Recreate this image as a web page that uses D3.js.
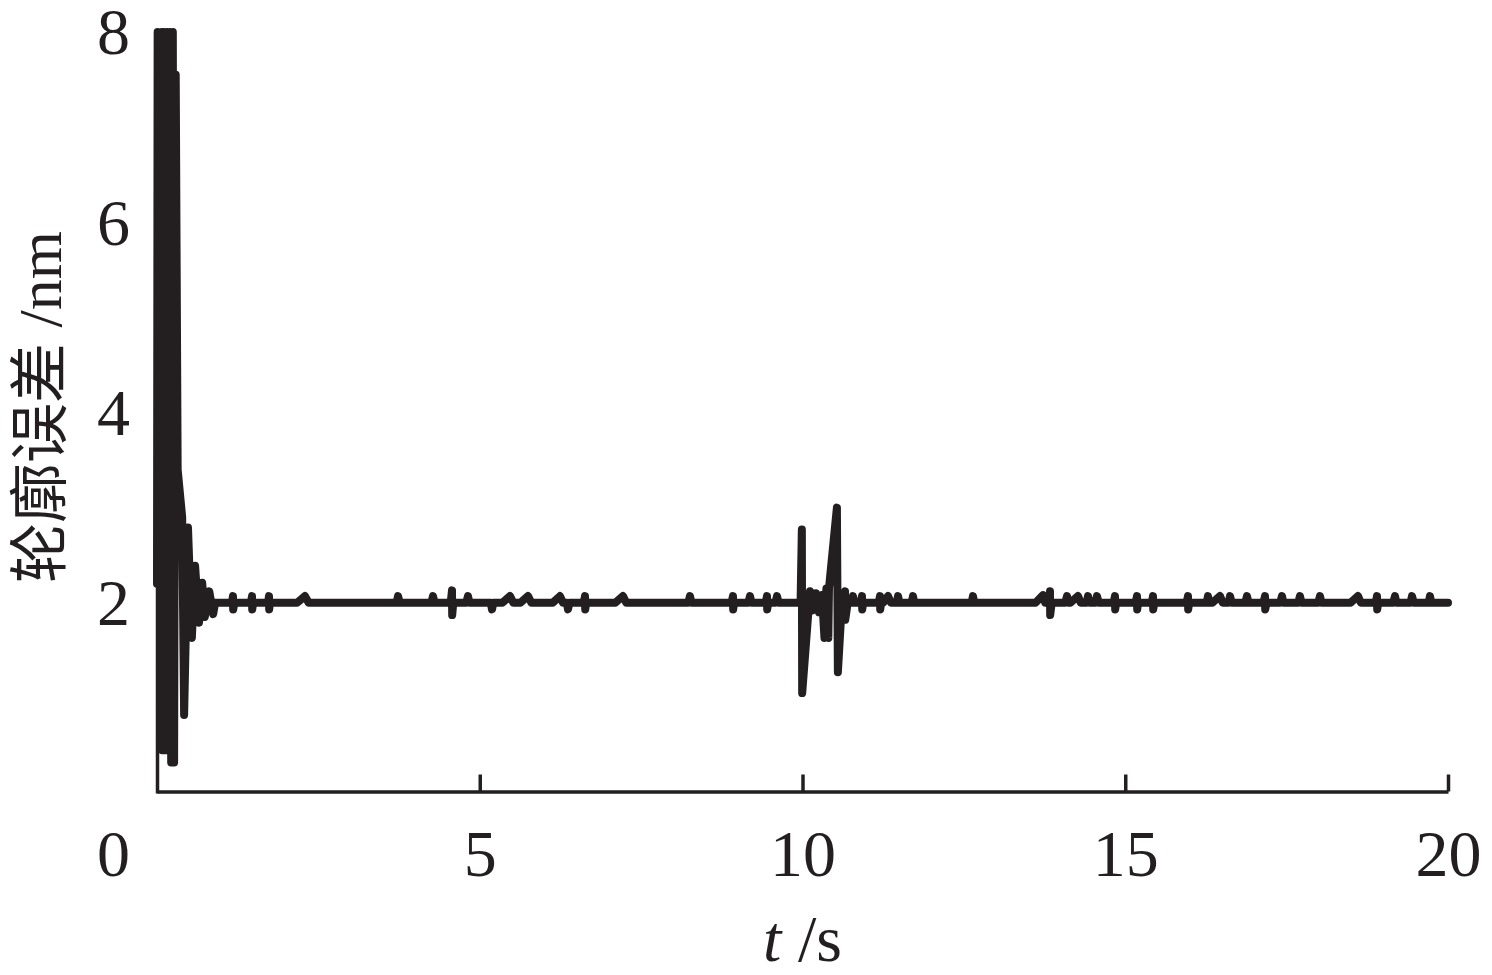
<!DOCTYPE html>
<meta charset="utf-8">

<!-- Load d3.js -->
<script src="https://d3js.org/d3.v7.min.js"></script>

<style>
  body { margin: 0; background: #fff; }
</style>

<!-- Create a div where the graph will take place -->
<div id="error_plot"></div>

<script>

// trace vertices: time in s, contour error in nm
var time = [
  0, 0.01, 0.045, 0.075, 0.08, 0.11, 0.13, 0.155, 0.175, 0.20, 0.22, 0.245, 0.265, 0.29, 0.32, 0.39, 0.42, 0.48, 0.54, 0.59, 0.65, 0.70, 0.74, 0.81, 0.87, 0.90,
  1.16, 1.177, 1.18, 1.20,
  1.455, 1.472, 1.475, 1.49,
  1.72, 1.735, 1.738, 1.75,
  2.17, 2.293, 2.35,
  3.71, 3.734, 3.76,
  4.25, 4.276, 4.30,
  4.55, 4.57, 4.573, 4.59,
  4.79, 4.818, 4.84,
  5.17, 5.19, 5.21,
  5.35, 5.469, 5.52,
  5.63, 5.748, 5.80,
  6.13, 6.243, 6.29,
  6.35, 6.367, 6.39,
  6.61, 6.631, 6.634, 6.65,
  7.10, 7.219, 7.27,
  8.23, 8.257, 8.28,
  8.90, 8.923, 8.926, 8.94,
  9.16, 9.187, 9.21,
  9.43, 9.45, 9.453, 9.47,
  9.58, 9.605, 9.63,
  9.97, 9.99, 9.995, 10.085, 10.116, 10.163, 10.209, 10.256, 10.302, 10.34, 10.37, 10.40, 10.41, 10.533, 10.548, 10.61, 10.659, 10.662, 10.70,
  10.76, 10.782, 10.80,
  10.90, 10.922, 10.925, 10.94,
  11.18, 11.201, 11.204, 11.22,
  11.25, 11.325, 11.37,
  11.46, 11.48, 11.50,
  11.69, 11.712, 11.73,
  12.62, 12.641, 12.66,
  13.61, 13.726, 13.76,
  13.81, 13.834, 13.837, 13.86,
  14.07, 14.098, 14.12,
  14.15, 14.268, 14.31,
  14.40, 14.423, 14.45,
  14.54, 14.562, 14.59,
  14.82, 14.841, 14.844, 14.86,
  15.16, 15.182, 15.185, 15.20,
  15.41, 15.43, 15.433, 15.45,
  15.95, 15.972, 15.975, 15.99,
  16.26, 16.282, 16.30,
  16.35, 16.468, 16.51,
  16.60, 16.623, 16.65,
  16.86, 16.886, 16.91,
  17.14, 17.165, 17.168, 17.19,
  17.40, 17.428, 17.45,
  17.68, 17.707, 17.73,
  17.99, 18.017, 18.04,
  18.49, 18.606, 18.65,
  18.88, 18.90, 18.903, 18.92,
  19.15, 19.179, 19.20,
  19.42, 19.442, 19.47,
  19.70, 19.721, 19.74,
  20
];

var error = [
  2.2, 8, 2.4, 8, 0.45, 8, 0.45, 8, 0.45, 8, 0.32, 8, 0.32, 7.55, 3.4, 2.9, 0.82, 2.79, 1.63, 2.39, 1.79, 2.21, 1.85, 2.12, 1.88, 2.0,
  2, 2.07, 1.93, 2,
  2, 2.07, 1.93, 2,
  2, 2.07, 1.93, 2,
  2, 2.07, 2,
  2, 2.07, 2,
  2, 2.07, 2,
  2, 2.13, 1.87, 2,
  2, 2.07, 2,
  2, 1.93, 2,
  2, 2.07, 2,
  2, 2.07, 2,
  2, 2.07, 2,
  2, 1.93, 2,
  2, 2.07, 1.93, 2,
  2, 2.07, 2,
  2, 2.07, 2,
  2, 2.07, 1.93, 2,
  2, 2.07, 2,
  2, 2.07, 1.93, 2,
  2, 2.07, 2,
  2, 2.77, 1.05, 1.85, 2.12, 1.92, 2.1, 1.9, 2.08, 1.63, 2.15, 1.63, 2.15, 3.0, 1.27, 2.0, 2.12, 1.82, 2.0,
  2, 2.07, 2,
  2, 2.07, 1.93, 2,
  2, 2.07, 1.93, 2,
  2, 2.07, 2,
  2, 2.07, 2,
  2, 2.07, 2,
  2, 2.07, 2,
  2, 2.08, 2,
  2, 2.12, 1.87, 2,
  2, 2.07, 2,
  2, 2.07, 2,
  2, 2.07, 2,
  2, 2.07, 2,
  2, 2.07, 1.93, 2,
  2, 2.07, 1.93, 2,
  2, 2.07, 1.93, 2,
  2, 2.07, 1.93, 2,
  2, 2.07, 2,
  2, 2.07, 2,
  2, 2.07, 2,
  2, 2.07, 2,
  2, 2.07, 1.93, 2,
  2, 2.07, 2,
  2, 2.07, 2,
  2, 2.07, 2,
  2, 2.07, 2,
  2, 2.07, 1.93, 2,
  2, 2.07, 2,
  2, 2.07, 2,
  2, 2.07, 2,
  2
];

var xTicks = [5, 10, 15, 20];
var yTicks = [2, 4, 6, 8];

var ink = "#231f20";
var serif = "'Liberation Serif', 'Times New Roman', serif";

// set the dimensions and margins of the graph
var width = 1492, height = 975;
var margin = {top: 32, right: 44, bottom: 182, left: 157};

var svg = d3.select("#error_plot")
  .append("svg")
  .attr("width", width)
  .attr("height", height);

var x = d3.scaleLinear()
  .domain([0, 20])
  .range([margin.left, width - margin.right]);

var y = d3.scaleLinear()
  .domain([0, 8])
  .range([height - margin.bottom, margin.top]);

// x axis with inward ticks
var xAxis = svg.append("g")
  .attr("transform", "translate(0," + (y(0) - 1.5) + ")")
  .call(d3.axisBottom(x).tickValues(xTicks).tickSizeInner(-17).tickSizeOuter(0).tickPadding(38));

// y axis, no tick marks
var yAxis = svg.append("g")
  .attr("transform", "translate(" + x(0) + ",0)")
  .call(d3.axisLeft(y).tickValues(yTicks).tickSizeInner(0).tickSizeOuter(0).tickPadding(27));

svg.selectAll(".domain").attr("stroke", ink).attr("stroke-width", 3.5);
svg.selectAll(".tick line").attr("stroke", ink).attr("stroke-width", 3.5);
svg.selectAll(".tick text")
  .attr("fill", ink)
  .style("font-family", serif)
  .style("font-size", "66px");
yAxis.selectAll(".tick text").attr("dy", "0.33em");

// origin label sits under the y labels
svg.append("text")
  .attr("x", x(0) - 27)
  .attr("y", y(0) - 1.5)
  .attr("dy", 38 + 0.71 * 66)
  .attr("text-anchor", "end")
  .attr("fill", ink)
  .style("font-family", serif)
  .style("font-size", "66px")
  .text("0");

// the error trace
var points = time.map(function(t, i) { return [t, error[i]]; });

svg.append("path")
  .datum(points)
  .attr("fill", "none")
  .attr("stroke", ink)
  .attr("stroke-width", 8)
  .attr("stroke-linejoin", "round")
  .attr("stroke-linecap", "round")
  .attr("d", d3.line()
    .x(function(d) { return x(d[0]); })
    .y(function(d) { return y(d[1]); }));

// axis titles
var xt = svg.append("text")
  .attr("x", (x(0) + x(20)) / 2)
  .attr("y", 961)
  .attr("text-anchor", "middle")
  .attr("fill", ink)
  .style("font-family", serif)
  .style("font-size", "66px");
xt.append("tspan").style("font-style", "italic").text("t");
xt.append("tspan").text(" /s");

var yt = svg.append("text")
  .attr("transform", "translate(61," + 407 + ") rotate(-90)")
  .attr("text-anchor", "middle")
  .attr("fill", ink)
  .style("font-size", "60px");
yt.append("tspan").style("font-family", "'Noto Sans CJK SC', sans-serif").text("轮廓误差");
yt.append("tspan").style("font-family", serif).style("font-size", "62px").text(" /nm");

</script>
